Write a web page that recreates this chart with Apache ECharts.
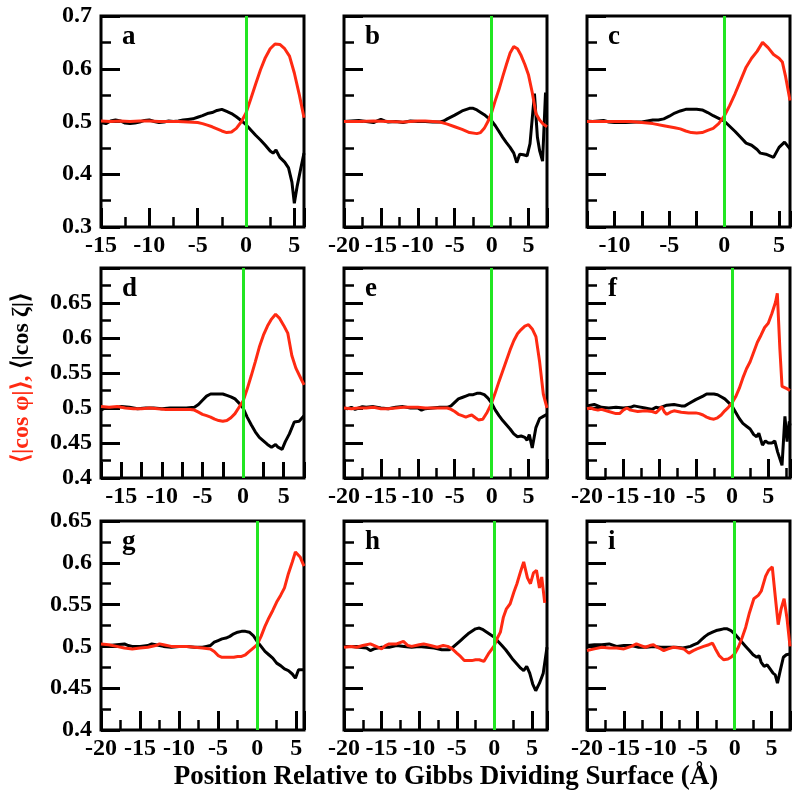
<!DOCTYPE html>
<html><head><meta charset="utf-8">
<script src="https://cdn.jsdelivr.net/npm/echarts@6/dist/echarts.min.js"></script>
<style>html,body{margin:0;padding:0;background:#fff}#chart{width:800px;height:808px}</style>
</head><body><div id="chart"></div>
<script>
// ---------- data ----------
const panelLetters = ['a','b','c','d','e','f','g','h','i'];
const xMins = [-15, -20, -12.5, -17.5, -20, -20, -20, -20, -20];
const xMaxs = [6, 7.5, 6, 7.5, 7.5, 8, 6, 7, 7.5];
const xTickSteps = [5, 5, 2.5, 2.5, 5, 5, 5, 5, 5];
const xLabelStep = 5;
const rowYMin = [0.3, 0.4, 0.4];
const rowYMax = [0.7, 0.7, 0.65];
const rowYStep = [0.1, 0.05, 0.05];
const yTitleRed = '⟨|cos φ|⟩,';
const yTitleBlack = '⟨|cos ζ|⟩';
const xTitle = 'Position Relative to Gibbs Dividing Surface (Å)';

const blackA = [[-15,0.498],[-14.5,0.496],[-14,0.501],[-13.5,0.503],[-13,0.501],[-12.5,0.497],[-12,0.496],[-11.5,0.497],[-11,0.499],[-10.5,0.502],[-10,0.503],[-9.5,0.500],[-9,0.498],[-8.5,0.499],[-8,0.501],[-7.5,0.500],[-7,0.501],[-6.5,0.503],[-6,0.504],[-5.5,0.505],[-5,0.508],[-4.5,0.511],[-4,0.515],[-3.5,0.517],[-3,0.521],[-2.5,0.523],[-2,0.519],[-1.5,0.515],[-1,0.509],[-0.5,0.502],[0,0.494],[0.5,0.484],[1,0.474],[1.5,0.465],[2,0.455],[2.5,0.444],[2.8,0.440],[3.1,0.446],[3.5,0.432],[4,0.423],[4.4,0.412],[4.75,0.385],[5,0.345],[5.3,0.378],[5.6,0.405],[6,0.44]];
const redA = [[-15,0.501],[-14,0.500],[-13,0.501],[-12,0.500],[-11,0.501],[-10,0.501],[-9,0.500],[-8,0.500],[-7,0.500],[-6,0.499],[-5,0.498],[-4.5,0.496],[-4,0.493],[-3.5,0.490],[-3,0.486],[-2.5,0.482],[-2,0.479],[-1.5,0.480],[-1,0.487],[-0.5,0.499],[0,0.516],[0.5,0.543],[1,0.571],[1.5,0.598],[2,0.621],[2.5,0.638],[3,0.647],[3.5,0.646],[4,0.638],[4.5,0.624],[5,0.592],[5.5,0.552],[6,0.507]];
const blackB = [[-20,0.500],[-19,0.501],[-18,0.502],[-17,0.500],[-16,0.498],[-15.5,0.501],[-15,0.504],[-14.5,0.501],[-14,0.499],[-13,0.500],[-12,0.498],[-11,0.501],[-10,0.500],[-9,0.500],[-8,0.499],[-7,0.499],[-6.5,0.501],[-6,0.505],[-5,0.512],[-4,0.520],[-3,0.525],[-2.5,0.525],[-2,0.522],[-1,0.513],[0,0.501],[0.5,0.492],[1,0.481],[1.5,0.470],[2,0.460],[2.5,0.451],[3,0.440],[3.4,0.422],[3.8,0.438],[4.3,0.437],[4.8,0.435],[5.2,0.458],[5.8,0.553],[6.2,0.470],[6.5,0.445],[6.9,0.425],[7.3,0.555]];
const redB = [[-20,0.500],[-18,0.500],[-16,0.501],[-14,0.500],[-12,0.499],[-10,0.501],[-9,0.501],[-8,0.500],[-7,0.499],[-6,0.495],[-5,0.490],[-4,0.485],[-3,0.479],[-2,0.477],[-1.5,0.479],[-1,0.487],[-0.5,0.500],[0,0.517],[0.5,0.540],[1,0.561],[1.5,0.585],[2,0.608],[2.5,0.630],[3,0.642],[3.5,0.638],[4,0.625],[4.5,0.608],[5,0.588],[5.5,0.555],[6,0.515],[6.5,0.503],[7,0.495],[7.5,0.490]];
const blackC = [[-12.5,0.501],[-12,0.500],[-11.5,0.501],[-11,0.502],[-10.5,0.499],[-10,0.498],[-9,0.498],[-8,0.499],[-7.5,0.499],[-7,0.501],[-6.5,0.503],[-6,0.503],[-5.5,0.505],[-5,0.510],[-4.5,0.516],[-4,0.520],[-3.5,0.523],[-3,0.523],[-2.5,0.523],[-2,0.522],[-1.5,0.517],[-1,0.511],[-0.5,0.506],[0,0.501],[0.5,0.491],[1,0.481],[1.5,0.470],[2,0.459],[2.5,0.455],[3,0.447],[3.3,0.440],[3.8,0.438],[4.5,0.432],[5,0.451],[5.5,0.461],[6,0.448]];
const redC = [[-12.5,0.500],[-11.5,0.500],[-10.5,0.500],[-9.5,0.500],[-8.5,0.500],[-7.5,0.498],[-6.5,0.496],[-5.5,0.492],[-4.5,0.488],[-4,0.486],[-3.5,0.482],[-3,0.479],[-2.5,0.478],[-2,0.479],[-1.5,0.483],[-1,0.487],[-0.5,0.496],[0,0.510],[0.5,0.530],[1,0.553],[1.5,0.578],[2,0.603],[2.5,0.620],[3,0.633],[3.5,0.650],[4,0.640],[4.5,0.627],[5,0.620],[5.3,0.613],[5.6,0.585],[6,0.54]];
const blackD = [[-17.5,0.497],[-17,0.500],[-16,0.500],[-15,0.502],[-14,0.501],[-13,0.499],[-12,0.500],[-11,0.500],[-10,0.499],[-9,0.500],[-8,0.500],[-7,0.500],[-6,0.501],[-5.5,0.505],[-5,0.511],[-4.5,0.517],[-4,0.520],[-3,0.520],[-2.5,0.520],[-2,0.518],[-1.5,0.516],[-1,0.513],[-0.5,0.507],[0,0.500],[0.5,0.487],[1,0.476],[1.5,0.466],[2,0.458],[2.5,0.453],[3,0.448],[3.5,0.444],[4,0.448],[4.3,0.444],[4.8,0.441],[5.2,0.452],[5.7,0.463],[6.3,0.480],[6.9,0.481],[7.5,0.489]];
const redD = [[-17.5,0.502],[-16.5,0.501],[-15.5,0.502],[-14.5,0.500],[-13.5,0.499],[-12.5,0.499],[-11.5,0.500],[-10.5,0.499],[-9.5,0.498],[-8.5,0.498],[-7.5,0.498],[-6.5,0.498],[-6,0.497],[-5.5,0.494],[-5,0.491],[-4.5,0.489],[-4,0.487],[-3.5,0.484],[-3,0.482],[-2.5,0.481],[-2,0.482],[-1.5,0.486],[-1,0.492],[-0.5,0.501],[0,0.510],[0.5,0.527],[1,0.546],[1.5,0.566],[2,0.587],[2.5,0.604],[3,0.617],[3.5,0.627],[4,0.634],[4.5,0.628],[5,0.618],[5.5,0.607],[6,0.575],[6.5,0.557],[7,0.545],[7.5,0.533]];
const blackE = [[-20,0.500],[-19.5,0.499],[-19,0.501],[-18.5,0.498],[-18,0.500],[-17.5,0.502],[-17,0.501],[-16,0.502],[-15,0.500],[-14,0.499],[-13,0.501],[-12,0.502],[-11,0.500],[-10,0.500],[-9.5,0.497],[-9,0.499],[-8,0.500],[-7,0.501],[-6,0.501],[-5.5,0.503],[-5,0.508],[-4.5,0.513],[-4,0.515],[-3.5,0.517],[-3,0.519],[-2.5,0.519],[-2,0.521],[-1.5,0.521],[-1,0.519],[-0.5,0.514],[0,0.507],[0.5,0.497],[1,0.489],[1.5,0.482],[2,0.476],[2.5,0.470],[3,0.463],[3.5,0.459],[4,0.460],[4.5,0.458],[4.8,0.454],[5.1,0.462],[5.5,0.443],[6,0.472],[6.5,0.485],[7,0.488],[7.5,0.491]];
const redE = [[-20,0.500],[-19,0.499],[-18,0.500],[-17,0.500],[-16,0.501],[-15,0.499],[-14,0.499],[-13,0.500],[-12,0.501],[-11,0.501],[-10,0.501],[-9,0.500],[-8,0.500],[-7,0.500],[-6,0.500],[-5.5,0.498],[-5,0.495],[-4.5,0.491],[-4,0.489],[-3.5,0.487],[-3,0.489],[-2.7,0.490],[-2.2,0.486],[-1.8,0.483],[-1.2,0.484],[-0.6,0.494],[0,0.507],[0.5,0.522],[1,0.538],[1.5,0.553],[2,0.568],[2.5,0.583],[3,0.596],[3.5,0.606],[4,0.612],[4.5,0.617],[5,0.619],[5.5,0.613],[6,0.602],[6.5,0.566],[7,0.520],[7.5,0.500]];
const blackF = [[-20,0.503],[-19.5,0.504],[-19,0.505],[-18.5,0.503],[-18,0.501],[-17,0.500],[-16,0.501],[-15,0.500],[-14,0.501],[-13.5,0.503],[-13,0.502],[-12,0.500],[-11,0.498],[-10.5,0.501],[-10,0.500],[-9,0.504],[-8,0.505],[-7,0.503],[-6.5,0.503],[-6,0.506],[-5,0.512],[-4,0.517],[-3.5,0.520],[-3,0.520],[-2.5,0.520],[-2,0.519],[-1.5,0.516],[-1,0.513],[-0.5,0.508],[0,0.503],[0.5,0.494],[1,0.485],[1.5,0.478],[2,0.474],[2.5,0.470],[3,0.462],[3.4,0.459],[3.7,0.464],[4.2,0.447],[4.6,0.453],[5,0.450],[5.5,0.450],[5.9,0.453],[6.3,0.437],[6.9,0.418],[7.3,0.488],[7.6,0.452],[7.9,0.481],[8,0.475]];
const redF = [[-20,0.499],[-19.5,0.500],[-19,0.498],[-18.5,0.497],[-18,0.498],[-17,0.495],[-16,0.492],[-15.5,0.492],[-15,0.497],[-14.5,0.500],[-14,0.497],[-13,0.495],[-12,0.496],[-11,0.495],[-10.5,0.493],[-10,0.498],[-9.7,0.502],[-9.3,0.494],[-9,0.491],[-8.5,0.494],[-8,0.496],[-7,0.494],[-6,0.493],[-5,0.493],[-4.5,0.492],[-4,0.490],[-3.5,0.487],[-3,0.485],[-2.5,0.484],[-2,0.486],[-1.5,0.490],[-1,0.496],[-0.5,0.501],[0,0.507],[0.5,0.516],[1,0.528],[1.5,0.543],[2,0.556],[2.5,0.566],[3,0.580],[3.5,0.594],[4,0.604],[4.5,0.615],[5,0.621],[5.5,0.635],[6,0.651],[6.25,0.664],[6.6,0.585],[6.9,0.531],[7.5,0.528],[8,0.525]];
const blackG = [[-20,0.500],[-19,0.501],[-18,0.502],[-17,0.503],[-16.5,0.501],[-16,0.500],[-15,0.500],[-14,0.501],[-13.5,0.503],[-13,0.502],[-12,0.500],[-11,0.499],[-10,0.500],[-9,0.500],[-8,0.499],[-7,0.499],[-6.5,0.500],[-6,0.501],[-5.5,0.505],[-5,0.507],[-4.5,0.509],[-4,0.510],[-3.5,0.512],[-3,0.515],[-2.5,0.517],[-2,0.518],[-1.5,0.518],[-1,0.517],[-0.5,0.513],[0,0.506],[0.5,0.500],[1,0.494],[1.5,0.490],[2,0.486],[2.5,0.480],[3,0.477],[3.5,0.473],[4,0.471],[4.5,0.467],[4.9,0.462],[5.3,0.472],[6,0.472]];
const redG = [[-20,0.503],[-19,0.502],[-18,0.500],[-17,0.498],[-16,0.497],[-15,0.498],[-14,0.499],[-13,0.501],[-12.5,0.503],[-12,0.502],[-11,0.500],[-10,0.500],[-9,0.500],[-8,0.499],[-7,0.498],[-6,0.497],[-5.5,0.494],[-5,0.489],[-4.5,0.487],[-4,0.487],[-3.5,0.487],[-3,0.487],[-2.5,0.488],[-2,0.488],[-1.5,0.490],[-1,0.494],[-0.5,0.498],[0,0.502],[0.5,0.512],[1,0.524],[1.5,0.534],[2,0.543],[2.5,0.553],[3,0.561],[3.5,0.570],[4,0.587],[4.5,0.601],[4.9,0.613],[5.5,0.607],[6,0.596]];
const blackH = [[-20,0.500],[-19,0.500],[-18,0.499],[-17,0.498],[-16.5,0.495],[-16,0.497],[-15,0.499],[-14,0.499],[-13,0.501],[-12,0.500],[-11,0.499],[-10,0.500],[-9,0.499],[-8,0.498],[-7,0.496],[-6,0.496],[-5.5,0.499],[-5,0.503],[-4.5,0.507],[-4,0.511],[-3.5,0.515],[-3,0.518],[-2.5,0.521],[-2,0.522],[-1.5,0.520],[-1,0.517],[-0.5,0.514],[0,0.511],[0.5,0.506],[1,0.501],[1.5,0.496],[2,0.490],[2.5,0.484],[3,0.479],[3.5,0.474],[3.9,0.471],[4.3,0.476],[4.7,0.468],[5.1,0.455],[5.5,0.447],[6,0.456],[6.5,0.468],[7,0.499]];
const redH = [[-20,0.499],[-19,0.500],[-18.3,0.499],[-17.5,0.501],[-16.5,0.503],[-15.5,0.499],[-15,0.497],[-14.5,0.501],[-14,0.503],[-13,0.503],[-12.1,0.506],[-11.5,0.501],[-11,0.500],[-10,0.502],[-9.4,0.503],[-8.5,0.501],[-7.6,0.499],[-6.8,0.501],[-6.2,0.500],[-5.6,0.497],[-5,0.492],[-4.5,0.488],[-4,0.483],[-3.5,0.483],[-3,0.483],[-2.5,0.484],[-2,0.484],[-1.4,0.482],[-0.8,0.491],[0,0.501],[0.4,0.510],[0.8,0.517],[1.2,0.535],[1.6,0.545],[2.1,0.551],[2.6,0.565],[3.0,0.575],[3.5,0.590],[3.9,0.601],[4.4,0.582],[4.8,0.575],[5.2,0.588],[5.6,0.591],[6.0,0.570],[6.3,0.583],[6.7,0.552]];
const blackI = [[-20,0.501],[-19,0.502],[-18,0.502],[-17,0.503],[-16,0.500],[-15,0.501],[-14,0.501],[-13,0.499],[-12,0.499],[-11,0.500],[-10,0.499],[-9,0.499],[-8,0.499],[-7,0.498],[-6,0.500],[-5.5,0.502],[-5,0.504],[-4.5,0.508],[-4,0.512],[-3.5,0.515],[-3,0.517],[-2.5,0.519],[-2,0.520],[-1.5,0.521],[-1,0.521],[-0.5,0.519],[0,0.515],[0.5,0.510],[1,0.505],[1.5,0.500],[2,0.495],[2.5,0.490],[3,0.487],[3.3,0.489],[3.6,0.481],[4,0.476],[4.4,0.478],[4.8,0.473],[5.2,0.468],[5.5,0.466],[5.8,0.456],[6.2,0.472],[6.6,0.487],[7,0.490],[7.5,0.491]];
const redI = [[-20,0.495],[-19,0.497],[-18,0.499],[-17,0.498],[-16,0.498],[-15,0.497],[-14,0.500],[-13.3,0.503],[-12.7,0.501],[-12.1,0.499],[-11.5,0.501],[-11,0.502],[-10.5,0.499],[-10,0.497],[-9.6,0.495],[-9,0.497],[-8.3,0.499],[-7.5,0.498],[-6.9,0.497],[-6.2,0.492],[-5.6,0.495],[-5.1,0.497],[-4.2,0.500],[-3.5,0.502],[-3,0.504],[-2.6,0.497],[-2.1,0.489],[-1.5,0.484],[-0.9,0.485],[-0.5,0.487],[0,0.491],[0.5,0.499],[1,0.510],[1.5,0.523],[2,0.540],[2.6,0.557],[3.2,0.561],[3.6,0.566],[4.2,0.584],[4.6,0.591],[5.1,0.595],[5.5,0.560],[5.9,0.526],[6.3,0.545],[6.7,0.557],[7.1,0.533],[7.5,0.500]];

const blackSeries = [blackA, blackB, blackC, blackD, blackE, blackF, blackG, blackH, blackI];
const redSeries = [redA, redB, redC, redD, redE, redF, redG, redH, redI];

// ---------- layout / style ----------
const FONT = '"Liberation Serif","Times New Roman",serif';
const RED = '#ff2a12';
const GREEN = '#22e622';
const colLeft = [101, 344, 587];
const rowTop = [16, 268, 521];
const rowH = [211, 210, 209];
const panelW = 203;

function isMultiple(v, step) {
  const q = v / step;
  return Math.abs(q - Math.round(q)) < 1e-6;
}

const grid = [], xAxis = [], yAxis = [], series = [], graphic = [];
for (let i = 0; i < 9; i++) {
  const r = Math.floor(i / 3), c = i % 3;
  grid.push({left: colLeft[c], top: rowTop[r], width: panelW, height: rowH[r], show: true,
    borderColor: '#000', borderWidth: 3});
  const labelStyle = {fontFamily: FONT, fontWeight: 'bold', fontSize: 24, color: '#000'};
  const halfStep = xTickSteps[i] === xLabelStep;
  xAxis.push({type: 'value', gridIndex: i, min: xMins[i], max: xMaxs[i], interval: xTickSteps[i],
    axisLine: {show: false, onZero: false}, splitLine: {show: false},
    axisTick: {show: true, inside: true, length: halfStep ? 19 : 16, lineStyle: {color: '#000', width: 3}},
    minorTick: {show: halfStep, splitNumber: 2, length: 10, lineStyle: {color: '#000', width: 2.5}},
    axisLabel: Object.assign({show: true, margin: 7,
      formatter: v => (isMultiple(v, xLabelStep) ? String(Math.round(v)) : '')}, labelStyle)});
  xAxis.push({type: 'value', gridIndex: i, position: 'top', min: 1, max: 2, show: false});
  yAxis.push({type: 'value', gridIndex: i, min: rowYMin[r], max: rowYMax[r], interval: rowYStep[r],
    axisLine: {show: false, onZero: false}, splitLine: {show: false},
    axisTick: {show: true, inside: true, length: 19, lineStyle: {color: '#000', width: 3}},
    minorTick: {show: true, splitNumber: 2, length: 10, lineStyle: {color: '#000', width: 2.5}},
    axisLabel: Object.assign({show: c === 0, margin: 9, showMaxLabel: r !== 1,
      formatter: v => String(+v.toFixed(3))}, labelStyle)});
  series.push({type: 'line', xAxisIndex: 2 * i, yAxisIndex: i, data: blackSeries[i], showSymbol: false,
    symbol: 'none', lineStyle: {color: '#000', width: 3}});
  series.push({type: 'line', xAxisIndex: 2 * i, yAxisIndex: i, data: redSeries[i], showSymbol: false,
    symbol: 'none', lineStyle: {color: RED, width: 3},
    markLine: {silent: true, symbol: ['none', 'none'], label: {show: false}, animation: false,
      lineStyle: {color: GREEN, width: 3, type: 'solid'}, emphasis: {disabled: true},
      data: [{xAxis: 0}]}});
  graphic.push({type: 'text', left: colLeft[c] + 21, top: rowTop[r] + 8, z: 20,
    style: {text: panelLetters[i], font: 'bold 27px ' + FONT, fill: '#000'}});
}
graphic.push({type: 'text', x: 446, y: 777, z: 20,
  style: {text: xTitle, font: 'bold 27px ' + FONT, fill: '#000', align: 'center', verticalAlign: 'middle'}});
graphic.push({type: 'text', x: 22, y: 378, rotation: Math.PI / 2, z: 20,
  style: {text: '{r|' + yTitleRed + '} {k|' + yTitleBlack + '}', font: 'bold 24px ' + FONT,
    align: 'center', verticalAlign: 'middle',
    rich: {r: {fill: RED, font: 'bold 24px ' + FONT}, k: {fill: '#000', font: 'bold 24px ' + FONT}}}});

const chart = echarts.init(document.getElementById('chart'));
chart.setOption({animation: false, grid, xAxis, yAxis, series, graphic});
</script></body></html>
